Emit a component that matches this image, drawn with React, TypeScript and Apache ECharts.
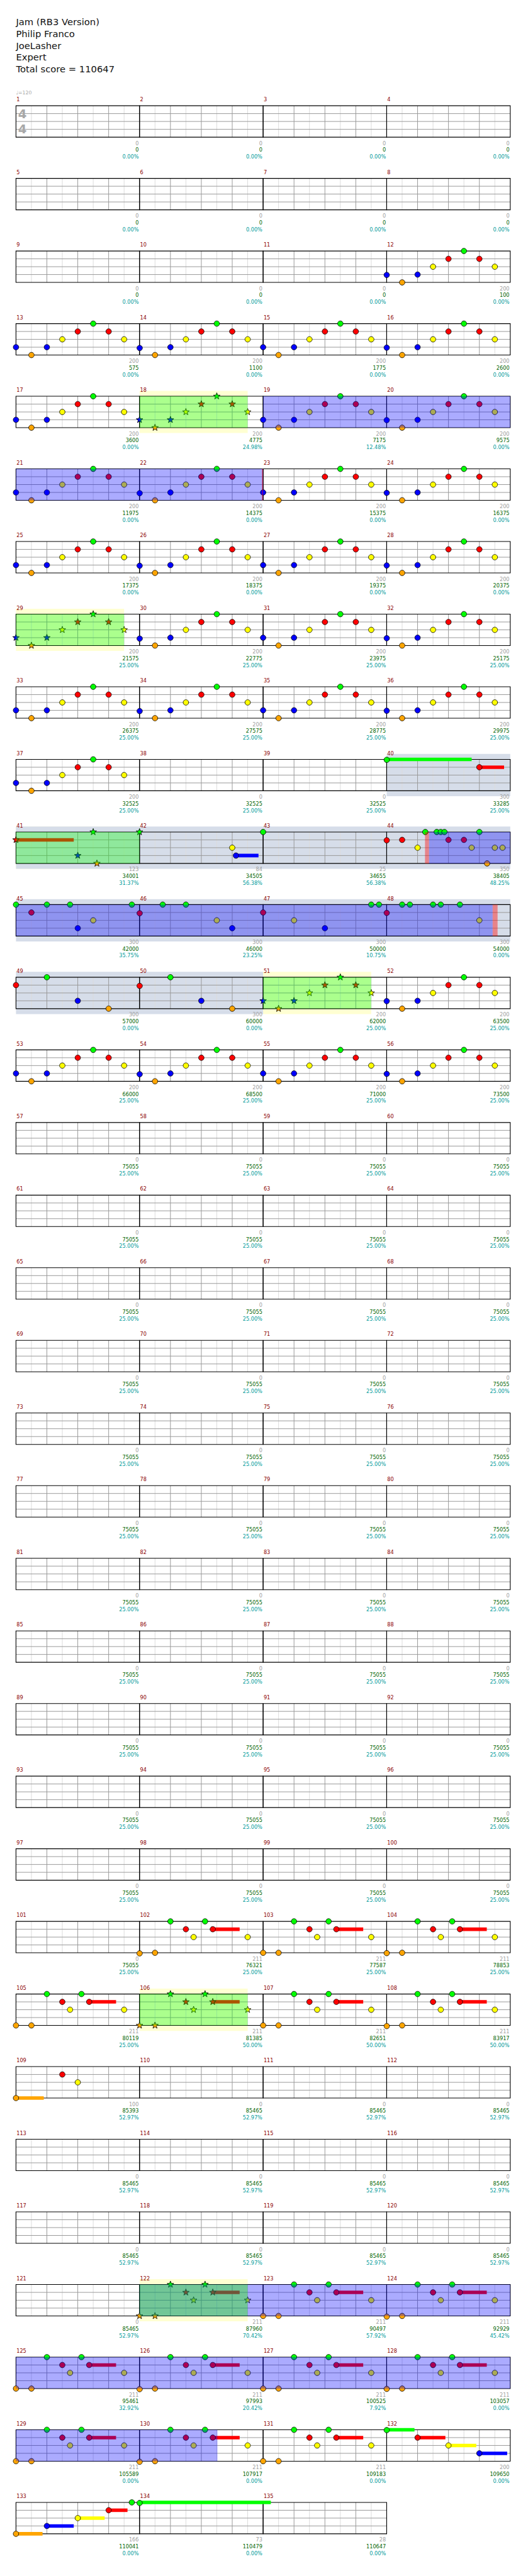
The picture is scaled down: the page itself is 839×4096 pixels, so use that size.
import React, { useEffect, useRef } from 'react';
import * as echarts from 'echarts';

// ---------------- data ----------------
const songTitle = 'Jam (RB3 Version)';
const songArtist = 'Philip Franco';
const chartAuthor = 'JoeLasher';
const difficulty = 'Expert';
const totalScore = 110647;
const tempoBpm = 120;
const timeSignature = ['4', '4'];
const measureCount = 135;

// lanes, bottom to top
const O = 0, B = 1, Y = 2, R = 3, G = 4;
const laneColors = ['#ffa500', '#0000ff', '#ffff00', '#ff0000', '#00ff00'];

// riffs: [beat, lane, sustainEndBeat?]
const riffA = [[0, B], [0.5, O], [1, B], [1.5, Y], [2, R], [2.5, G], [3, R], [3.5, Y]];
const riffAMeasures = [12, 13, 14, 15, 16, 17, 18, 19, 20, 21, 22, 23, 24, 25, 26, 27, 28, 29, 30, 31, 32, 33, 34, 35, 36, 37, 53, 54, 55, 56];
const riffB = [[0, O], [0.5, O], [1, G], [1.5, R], [1.75, Y], [2.12, G], [2.37, R, 3.24], [3.5, Y]];
const riffBMeasures = [102, 103, 104, 105, 106, 107, 108, 122, 123, 124, 125, 126, 127, 128, 129, 130, 131];

// [measure, beat, lane, sustainEndBeat?]
const extraNotes = [
  [40, 0, G, 2.75], [40, 3, R, 3.8],
  [41, 0, R, 1.87], [41, 2, B], [41, 2.5, G], [41, 2.62, O],
  [42, 0, G], [42, 3, Y], [42, 3.12, B, 3.85],
  [43, 0, G],
  [44, 0, R], [44, 0.5, R], [44, 1, Y], [44, 1.25, G], [44, 1.62, G], [44, 1.75, G], [44, 1.87, G], [44, 2, R],
  [44, 2.5, R], [44, 2.75, Y], [44, 3, G], [44, 3.25, O], [44, 3.5, Y], [44, 3.75, Y],
  [45, 0, G], [45, 1, G], [45, 1.75, G], [45, 3.75, G], [45, 0.5, R], [45, 2, B], [45, 2.5, Y],
  [46, 0.75, G], [46, 1.5, G], [46, 0, R], [46, 2.5, Y], [46, 3, B],
  [47, 3.5, G], [47, 3.75, G], [47, 0, R], [47, 1, Y], [47, 2, B],
  [48, 0.5, G], [48, 0.75, G], [48, 1.5, G], [48, 1.75, G], [48, 2.37, G], [48, 0, R], [48, 3, Y],
  [49, 0, R], [49, 1, G], [49, 2, B], [49, 3, O],
  [50, 0, R], [50, 1, G], [50, 2, B], [50, 3, O],
  [51, 0, B], [51, 0.5, O], [51, 1, B], [51, 1.5, Y], [51, 2, R], [51, 2.5, G], [51, 3, R], [51, 3.5, Y],
  [52, 0, B], [52, 0.5, O], [52, 1, B], [52, 1.5, Y], [52, 2, R], [52, 2.5, G], [52, 3, R], [52, 3.5, Y],
  [109, 0, O, 0.9], [109, 1.5, R], [109, 2, Y],
  [132, 0, G, 0.9], [132, 1, R, 1.9], [132, 2, Y, 2.9], [132, 3, B, 3.9],
  [133, 0, O, 0.86], [133, 1, B, 1.87], [133, 2, Y, 2.87], [133, 3, R, 3.61], [133, 3.75, G],
  [134, 0, G, 4.25],
];

// [startMeasure, startBeat, endMeasure, endBeat]
const overdrivePhrases = [[18, 0, 18, 3.5], [29, 0, 29, 3.5], [41, 0, 42, 0], [51, 0, 51, 3.5], [106, 0, 106, 3.5], [122, 0, 122, 3.5]];
const activations = [[19, 0, 22, 4], [44, 1.37, 48, 3.43], [122, 0, 130, 2.52]];
const soloSections = [[40, 0, 50, 4]];
// [measure, startBeat, endBeat]
const activationMarks = [[22, 3.96, 4], [44, 1.24, 1.37], [48, 3.43, 3.59]];

const measurePoints = [
  0, 0, 0, 0, 0, 0, 0, 0, 0, 0, 0, 200,
  200, 200, 200, 200, 200, 200, 200, 200, 200, 200, 200, 200,
  200, 200, 200, 200, 200, 200, 200, 200, 200, 200, 200, 200,
  200, 0, 0, 300, 123, 84, 25, 350,
  300, 300, 300, 300, 300, 300, 200, 200, 200, 200, 200, 200,
  0, 0, 0, 0, 0, 0, 0, 0, 0, 0, 0, 0, 0, 0, 0, 0, 0, 0, 0, 0, 0, 0, 0, 0,
  0, 0, 0, 0, 0, 0, 0, 0, 0, 0, 0, 0, 0, 0, 0, 0, 0, 0, 0, 0, 0,
  211, 211, 211, 211, 211, 211, 211, 100, 0, 0, 0,
  0, 0, 0, 0, 0, 0, 0, 0, 0, 211, 211, 211,
  211, 211, 211, 211, 211, 211, 211, 200, 166, 73, 28,
];
const cumulativeScore = [
  0, 0, 0, 0, 0, 0, 0, 0, 0, 0, 0, 100,
  575, 1100, 1775, 2600, 3600, 4775, 7175, 9575, 11975, 14375, 15375, 16375,
  17375, 18375, 19375, 20375, 21575, 22775, 23975, 25175, 26375, 27575, 28775, 29975,
  32525, 32525, 32525, 33285, 34001, 34505, 34655, 38405,
  42000, 46000, 50000, 54000, 57000, 60000, 62000, 63500, 66000, 68500, 71000, 73500,
  75055, 75055, 75055, 75055, 75055, 75055, 75055, 75055, 75055, 75055, 75055, 75055, 75055, 75055, 75055, 75055,
  75055, 75055, 75055, 75055, 75055, 75055, 75055, 75055, 75055, 75055, 75055, 75055, 75055, 75055, 75055, 75055,
  75055, 75055, 75055, 75055, 75055, 75055, 75055, 75055, 75055, 75055, 75055, 75055, 75055,
  76321, 77587, 78853, 80119, 81385, 82651, 83917, 85393, 85465, 85465, 85465,
  85465, 85465, 85465, 85465, 85465, 85465, 85465, 85465, 85465, 87960, 90497, 92929,
  95461, 97993, 100525, 103057, 105589, 107917, 109183, 109650, 110041, 110479, 110647,
];
const overdriveMeter = [
  '0.00%', '0.00%', '0.00%', '0.00%', '0.00%', '0.00%', '0.00%', '0.00%', '0.00%', '0.00%', '0.00%', '0.00%',
  '0.00%', '0.00%', '0.00%', '0.00%', '0.00%', '24.98%', '12.48%', '0.00%', '0.00%', '0.00%', '0.00%', '0.00%',
  '0.00%', '0.00%', '0.00%', '0.00%', '25.00%', '25.00%', '25.00%', '25.00%', '25.00%', '25.00%', '25.00%', '25.00%',
  '25.00%', '25.00%', '25.00%', '25.00%', '31.37%', '56.38%', '56.38%', '48.25%',
  '35.75%', '23.25%', '10.75%', '0.00%', '0.00%', '0.00%', '25.00%', '25.00%', '25.00%', '25.00%', '25.00%', '25.00%',
  '25.00%', '25.00%', '25.00%', '25.00%', '25.00%', '25.00%', '25.00%', '25.00%', '25.00%', '25.00%', '25.00%', '25.00%', '25.00%', '25.00%', '25.00%', '25.00%',
  '25.00%', '25.00%', '25.00%', '25.00%', '25.00%', '25.00%', '25.00%', '25.00%', '25.00%', '25.00%', '25.00%', '25.00%', '25.00%', '25.00%', '25.00%', '25.00%',
  '25.00%', '25.00%', '25.00%', '25.00%', '25.00%', '25.00%', '25.00%', '25.00%', '25.00%', '25.00%', '25.00%', '25.00%', '25.00%',
  '25.00%', '25.00%', '25.00%', '25.00%', '50.00%', '50.00%', '50.00%', '52.97%', '52.97%', '52.97%', '52.97%',
  '52.97%', '52.97%', '52.97%', '52.97%', '52.97%', '52.97%', '52.97%', '52.97%', '52.97%', '70.42%', '57.92%', '45.42%',
  '32.92%', '20.42%', '7.92%', '0.00%', '0.00%', '0.00%', '0.00%', '0.00%', '0.00%', '0.00%', '0.00%',
];

// ---------------- layout (reference px, scaled by SCALE) ----------------
const SCALE = 0.819;
const STAFF_X = 31;
const STAFF_W = 959;
const STAFF_TOP = 205.3;
const STAFF_H = 61;
const ROW_PITCH = 141;
const MEASURES_PER_ROW = 4;
const BEATS_PER_MEASURE = 4;
const BEATS_PER_ROW = MEASURES_PER_ROW * BEATS_PER_MEASURE;
const ROWS = Math.ceil(measureCount / MEASURES_PER_ROW);
const FONT = '"DejaVu Sans", "Noto Sans", sans-serif';

const gbeat = (m: number, b: number) => (m - 1) * BEATS_PER_MEASURE + b;

function buildRows() {
  const rows: any[][] = Array.from({ length: ROWS }, () => []);
  const span = (g0: number, g1: number, make: (x0: number, x1: number) => any) => {
    let a = g0;
    while (a < g1 - 1e-9) {
      const r = Math.floor(a / BEATS_PER_ROW + 1e-9);
      const end = Math.min(g1, (r + 1) * BEATS_PER_ROW);
      if (r < ROWS) rows[r].push(make(a - r * BEATS_PER_ROW, end - r * BEATS_PER_ROW));
      a = end;
    }
  };
  const isStar = (g: number) =>
    overdrivePhrases.some((p) => g >= gbeat(p[0], p[1]) - 1e-6 && g <= gbeat(p[2], p[3]) + 1e-6);

  overdrivePhrases.forEach((p) => span(gbeat(p[0], p[1]), gbeat(p[2], p[3]), (x0, x1) => ({ k: 'yband', x0, x1 })));
  soloSections.forEach((p) => span(gbeat(p[0], p[1]), gbeat(p[2], p[3]), (x0, x1) => ({ k: 'solo', x0, x1 })));

  for (let m = 1; m <= measureCount; m++) {
    const g = gbeat(m, 0);
    const r = Math.floor(g / BEATS_PER_ROW);
    const x0 = g - r * BEATS_PER_ROW;
    rows[r].push({ k: 'measure', x0, m });
    rows[r].push({
      k: 'mtext', x0, m,
      pts: measurePoints[m - 1], score: cumulativeScore[m - 1], pct: overdriveMeter[m - 1],
    });
  }

  const notes: any[] = [];
  riffAMeasures.forEach((m) => riffA.forEach((n) => notes.push([m, n[0], n[1], n[2]])));
  riffBMeasures.forEach((m) => riffB.forEach((n) => notes.push([m, n[0], n[1], n[2]])));
  extraNotes.forEach((n) => notes.push(n));
  notes.forEach((n) => {
    const g = gbeat(n[0], n[1]);
    if (n[3] !== undefined) {
      span(g, gbeat(n[0], n[3]), (x0, x1) => ({ k: 'sus', x0, x1, lane: n[2] }));
    }
    const r = Math.floor(g / BEATS_PER_ROW + 1e-9);
    rows[r].push({ k: 'note', x: g - r * BEATS_PER_ROW, lane: n[2], star: isStar(g) });
  });

  activations.forEach((p) => span(gbeat(p[0], p[1]), gbeat(p[2], p[3]), (x0, x1) => ({ k: 'fill', x0, x1, color: 'rgba(0,0,255,0.33)' })));
  overdrivePhrases.forEach((p) => span(gbeat(p[0], p[1]), gbeat(p[2], p[3]), (x0, x1) => ({ k: 'fill', x0, x1, color: 'rgba(0,255,0,0.33)' })));
  activationMarks.forEach((p) => span(gbeat(p[0], p[1]), gbeat(p[0], p[2]), (x0, x1) => ({ k: 'mark', x0, x1 })));

  rows[0].push({ k: 'timesig' });
  return rows;
}

const starPoints = (cx: number, cy: number, ro: number, ri: number) => {
  const pts: number[][] = [];
  for (let i = 0; i < 10; i++) {
    const a = -Math.PI / 2 + (i * Math.PI) / 5;
    const rr = i % 2 ? ri : ro;
    pts.push([cx + rr * Math.cos(a), cy + rr * Math.sin(a)]);
  }
  return pts;
};

const makeRenderer = (items: any[]) => (params: any, api: any) => {
  const it = items[params.dataIndex];
  const S = SCALE;
  const c = (x: number, y: number) => api.coord([x, y]);
  const line = (a: number[], b: number[], stroke: string, z2: number, w = 1) => ({
    type: 'line', z2, shape: { x1: a[0], y1: a[1], x2: b[0], y2: b[1] }, style: { stroke, lineWidth: w },
  });
  const text = (t: string, x: number, y: number, fill: string, size: number, align: string, z2 = 20, weight = 'normal') => ({
    type: 'text', z2,
    style: { text: t, x, y, fill, fontSize: size, fontFamily: FONT, fontWeight: weight, align, verticalAlign: 'middle' },
  });
  switch (it.k) {
    case 'yband':
    case 'solo': {
      const a = c(it.x0, 4), b = c(it.x1, 0);
      const pad = 10.5 * S;
      return {
        type: 'rect', z2: it.k === 'yband' ? 0 : 1,
        shape: { x: a[0], y: a[1] - pad, width: b[0] - a[0], height: b[1] - a[1] + 2 * pad },
        style: { fill: it.k === 'yband' ? '#ffffd2' : '#d6dde9' },
      };
    }
    case 'measure': {
      const ch: any[] = [];
      for (let i = 1; i < 8; i++) {
        const x = it.x0 + i * 0.5;
        ch.push(line(c(x, 4), c(x, 0), i % 2 ? '#dcdcdc' : '#9a9a9a', i % 2 ? 2 : 3));
      }
      for (let l = 1; l < 4; l++) ch.push(line(c(it.x0, l), c(it.x0 + 4, l), '#9a9a9a', 3));
      const a = c(it.x0, 4), b = c(it.x0 + 4, 0);
      ch.push({
        type: 'rect', z2: 4,
        shape: { x: a[0], y: a[1], width: b[0] - a[0], height: b[1] - a[1] },
        style: { fill: 'none', stroke: '#000000', lineWidth: 1.1 },
      });
      return { type: 'group', children: ch };
    }
    case 'sus': {
      const a = c(it.x0, it.lane), b = c(it.x1, it.lane);
      const h = 6.8 * S;
      return { type: 'rect', z2: 5, shape: { x: a[0], y: a[1] - h / 2, width: b[0] - a[0], height: h }, style: { fill: laneColors[it.lane] } };
    }
    case 'note': {
      const p = c(it.x, it.lane);
      if (it.star) {
        return {
          type: 'polygon', z2: 6,
          shape: { points: starPoints(p[0], p[1], 6.8 * S, 2.8 * S) },
          style: { fill: laneColors[it.lane], stroke: '#000000', lineWidth: 0.8 },
        };
      }
      return {
        type: 'circle', z2: 6,
        shape: { cx: p[0], cy: p[1], r: 5.3 * S },
        style: { fill: laneColors[it.lane], stroke: '#000000', lineWidth: 0.8 },
      };
    }
    case 'fill': {
      const a = c(it.x0, 4), b = c(it.x1, 0);
      return { type: 'rect', z2: 8, shape: { x: a[0], y: a[1], width: b[0] - a[0], height: b[1] - a[1] }, style: { fill: it.color } };
    }
    case 'mark': {
      const a = c(it.x0, 4), b = c(it.x1, 0);
      return { type: 'rect', z2: 9, shape: { x: a[0], y: a[1], width: b[0] - a[0], height: b[1] - a[1] }, style: { fill: 'rgba(255,0,0,0.4)' } };
    }
    case 'mtext': {
      const top = c(it.x0, 4);
      const end = c(it.x0 + 4, 0);
      const fs = 10 * S;
      return {
        type: 'group',
        children: [
          text(String(it.m), top[0] + 1 * S, top[1] - 12 * S, '#8b0000', fs, 'left'),
          text(String(it.pts), end[0] - 1.5 * S, end[1] + 11.7 * S, '#a0a0a0', fs, 'right'),
          text(String(it.score), end[0] - 1.5 * S, end[1] + 24.7 * S, '#006400', fs, 'right'),
          text(it.pct, end[0] - 1.5 * S, end[1] + 38 * S, '#009b9b', fs, 'right'),
        ],
      };
    }
    case 'timesig': {
      const top = c(0, 4);
      return {
        type: 'group',
        children: [
          text(timeSignature[0], top[0] + 4 * S, top[1] + 16.5 * S, '#a8a8a8', 24 * S, 'left', 7, 'bold'),
          text(timeSignature[1], top[0] + 4 * S, top[1] + 46 * S, '#a8a8a8', 24 * S, 'left', 7, 'bold'),
          text('\u2669=' + tempoBpm, top[0], top[1] - 25 * S, '#a8a8a8', 9.5 * S, 'left'),
        ],
      };
    }
  }
  return null;
};

function buildOption() {
  const S = SCALE;
  const rows = buildRows();
  const grid: any[] = [], xAxis: any[] = [], yAxis: any[] = [], series: any[] = [];
  rows.forEach((items, r) => {
    grid.push({ left: STAFF_X * S, top: (STAFF_TOP + r * ROW_PITCH) * S, width: STAFF_W * S, height: STAFF_H * S, show: false });
    xAxis.push({ gridIndex: r, type: 'value', min: 0, max: BEATS_PER_ROW, show: false });
    yAxis.push({ gridIndex: r, type: 'value', min: 0, max: 4, show: false });
    series.push({
      type: 'custom', name: 'row' + (r + 1), xAxisIndex: r, yAxisIndex: r, silent: true, clip: false,
      renderItem: makeRenderer(items),
      data: items.map((_, i) => [i]),
    });
  });
  const header = [songTitle, songArtist, chartAuthor, difficulty, 'Total score = ' + totalScore];
  const headerY = [42, 65, 88, 111, 134];
  return {
    animation: false,
    backgroundColor: '#ffffff',
    grid, xAxis, yAxis, series,
    graphic: header.map((t, i) => ({
      type: 'text', x: 31 * S, y: headerY[i] * S,
      style: { text: t, fill: '#111111', fontSize: 18 * S, fontFamily: FONT, verticalAlign: 'middle' },
    })),
  };
}

export default function App() {
  const ref = useRef<HTMLDivElement>(null);
  useEffect(() => {
    if (!ref.current) return;
    const chart = echarts.init(ref.current, null, { renderer: 'svg' });
    chart.setOption(buildOption() as any);
    return () => chart.dispose();
  }, []);
  return <div ref={ref} style={{ position: 'absolute', left: 0, top: 0, width: 839, height: 4096, background: '#fff' }} />;
}
